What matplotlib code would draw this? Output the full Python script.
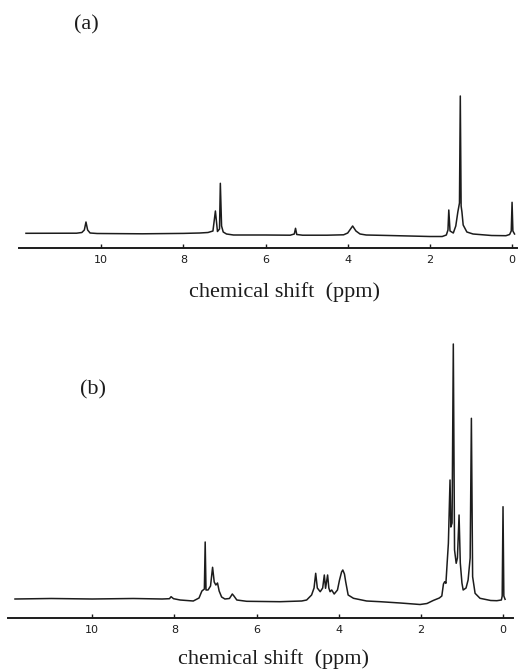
import matplotlib
matplotlib.use("Agg")
import matplotlib.pyplot as plt

# spectrum (a): chemical shift (ppm) and trace height (arb. units)
ppm_a = [11.83, 10.60, 10.47, 10.41, 10.37, 10.33, 10.27, 10.10, 9.0, 8.0, 7.6, 7.40,
         7.28, 7.22, 7.17, 7.12, 7.10, 7.07, 7.03, 6.95, 6.78, 6.0, 5.40, 5.30, 5.27,
         5.24, 5.10, 4.50, 4.10, 4.00, 3.88, 3.80, 3.70, 3.55, 3.0, 2.5, 2.0, 1.70,
         1.60, 1.56, 1.54, 1.51, 1.43, 1.37, 1.32, 1.28, 1.26, 1.24, 1.22, 1.19, 1.10,
         0.95, 0.5, 0.15, 0.06, 0.02, 0.0, -0.02, -0.06]
int_a = [14.7, 14.8, 15.5, 18, 26, 18, 15, 14.5, 14.2, 14.6, 15, 15.5,
         17, 37, 16.5, 19, 64.7, 22, 16, 14, 13, 13, 12.8, 14, 19.7,
         13.5, 12.8, 12.8, 13.2, 15, 22, 17, 14, 13, 12.5, 12, 11.5, 11.5,
         13, 18, 38, 17, 15, 22, 36, 45, 152, 42, 36, 23, 16,
         14, 12.5, 12.3, 13.5, 17, 45.7, 17, 14]

# spectrum (b)
ppm_b = [11.88, 11.0, 10.0, 9.0, 8.3, 8.12, 8.08, 8.02, 7.86, 7.54, 7.40, 7.33, 7.27,
         7.25, 7.23, 7.18, 7.12, 7.07, 7.03, 6.99, 6.95, 6.91, 6.85, 6.77, 6.66, 6.62,
         6.59, 6.55, 6.48, 6.24, 5.43, 4.90, 4.78, 4.66, 4.60, 4.56, 4.52, 4.45, 4.39,
         4.35, 4.32, 4.27, 4.24, 4.21, 4.17, 4.11, 4.03, 3.98, 3.93, 3.90, 3.86, 3.83,
         3.77, 3.64, 3.32, 2.99, 2.50, 2.02, 1.85, 1.70, 1.55, 1.49, 1.45, 1.42, 1.39,
         1.36, 1.33, 1.29, 1.27, 1.24, 1.21, 1.18, 1.14, 1.11, 1.07, 1.04, 1.00, 0.97,
         0.90, 0.85, 0.80, 0.77, 0.74, 0.68, 0.56, 0.30, 0.15, 0.04, 0.02, 0.0, -0.02,
         -0.05]
int_b = [19, 19.5, 19, 19.5, 19, 19.3, 21.3, 19.3, 18, 17, 20, 27, 29,
         76, 28, 28, 32, 50.7, 36, 33, 35, 27, 21, 19, 19.5, 22,
         24, 22, 18, 16.7, 16.3, 17, 18, 23, 30, 44.7, 30, 26.3, 30,
         43, 29.7, 43, 30, 26.3, 28, 24, 28, 38, 46, 48, 44, 36.3,
         23, 19.7, 17, 16.3, 15, 13.5, 14.5, 17.5, 20, 22, 34, 36.3, 34.7,
         55, 74.7, 138, 91, 95, 274, 68, 54.7, 60, 103, 55, 35, 28,
         30, 38, 60, 199.7, 41.3, 24.7, 19.7, 17.5, 17.3, 18, 22, 111.3, 22,
         18.7]

ticks = [0, 2, 4, 6, 8, 10]
W, H = 518, 669
ink = "#1c1c1c"
serif = "Liberation Serif"

fig = plt.figure(figsize=(W / 100, H / 100), dpi=100)


def panel(rect, xlim, ylim, x, y):
    ax = fig.add_axes(rect)
    ax.plot(x, y, color=ink, lw=1.1)
    ax.set_xlim(*xlim)
    ax.set_ylim(*ylim)
    for s in ["top", "left", "right"]:
        ax.spines[s].set_visible(False)
    ax.spines["bottom"].set_linewidth(1.4)
    ax.spines["bottom"].set_color(ink)
    ax.set_yticks([])
    ax.set_xticks(ticks)
    ax.set_xticklabels([str(t) for t in ticks])
    ax.tick_params(axis="x", direction="in", length=3, width=1, pad=5,
                   labelsize=8, colors=ink)
    ax.patch.set_alpha(0)
    return ax


ax1 = panel([19 / W, 1 - 248 / H, 498 / W, 163 / H], (12.0, -0.12), (0, 163), ppm_a, int_a)
ax1.set_xlabel("chemical shift  (ppm)", fontsize=16, family=serif, color=ink, va="center")
ax1.xaxis.set_label_coords(0.534, (248 - 292) / 163)

ax2 = panel([8 / W, 1 - 618 / H, 505 / W, 283 / H], (12.05, -0.243), (0, 283), ppm_b, int_b)
ax2.set_xlabel("chemical shift  (ppm)", fontsize=16, family=serif, color=ink, va="center")
ax2.xaxis.set_label_coords(0.526, (618 - 659) / 283)

fig.text(86 / W, 1 - 25 / H, "(a)", fontsize=16, family=serif, color=ink,
         ha="center", va="center")
fig.text(93 / W, 1 - 390 / H, "(b)", fontsize=16, family=serif, color=ink,
         ha="center", va="center")

fig.savefig("out.png", dpi=100, facecolor="white")
